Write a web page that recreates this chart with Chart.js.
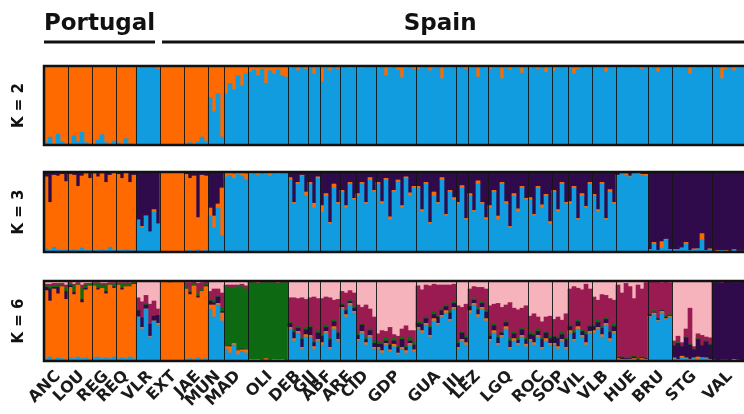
<!DOCTYPE html>
<html>
<head>
<meta charset="utf-8">
<script src="https://cdn.jsdelivr.net/npm/chart.js@4.4.1/dist/chart.umd.min.js"></script>
<style>
  html, body { margin: 0; padding: 0; background: #fff; overflow: hidden; }
  #wrap { position: relative; width: 744px; height: 414px; }
  canvas { position: absolute; left: 0; }
</style>
</head>
<body>
<div id="wrap">
  <canvas id="k2" width="744" height="150" style="top:0px"></canvas>
  <canvas id="k3" width="744" height="110" style="top:150px"></canvas>
  <canvas id="k6" width="744" height="154" style="top:260px"></canvas>
</div>
<script>
// populations, in plot order, and how many individuals each shows
const populations = ['ANC', 'LOU', 'REG', 'REQ', 'VLR', 'EXT', 'JAE', 'MUN', 'MAD', 'OLI',
  'DEB', 'GIJ', 'ABF', 'ARE', 'CID', 'GDP', 'GUA', 'JIL', 'LEZ', 'LGQ',
  'ROC', 'SOP', 'VIL', 'VLB', 'HUE', 'BRU', 'STG', 'VAL'];
const sampleCounts = [6, 6, 6, 5, 6, 6, 6, 4, 6, 10,
  5, 3, 5, 4, 5, 10, 10, 3, 5, 10,
  6, 4, 6, 6, 8, 6, 10, 8];
const countries = ['Portugal', 'Spain'];
const countryPopCounts = [5, 23];
const rowTitles = ['K = 2', 'K = 3', 'K = 6'];

// ancestry (%) per individual; the last cluster of each K is the remainder
const k2Orange = [
  97, 90, 99, 86, 96, 98,        // ANC
  98, 88, 96, 84, 97, 99,        // LOU
  99, 94, 87, 97, 99, 95,        // REG
  97, 99, 92, 98, 100,           // REQ
  3, 1, 0, 2, 1, 4,              // VLR
  100, 100, 99, 100, 100, 100,   // EXT
  99, 97, 100, 96, 90, 95,       // JAE
  40, 58, 35, 90,                // MUN
  35, 22, 30, 12, 25, 10,        // MAD
  8, 5, 12, 4, 22, 6, 10, 5, 12, 14, // OLI
  3, 2, 6, 2, 4,                 // DEB
  2, 10, 3,                      // GIJ
  20, 3, 6, 2, 4,                // ABF
  2, 1, 3, 2,                    // ARE
  2, 3, 1, 2, 2,                 // CID
  3, 2, 12, 3, 2, 5, 15, 3, 2, 4, // GDP
  4, 3, 2, 6, 3, 2, 16, 2, 3, 2, // GUA
  3, 2, 4,                       // JIL
  3, 2, 14, 2, 3,                // LEZ
  4, 3, 2, 16, 3, 5, 2, 3, 9, 2, // LGQ
  3, 2, 4, 2, 8, 3,              // ROC
  6, 3, 2, 3,                    // SOP
  3, 10, 4, 2, 3, 2,             // VIL
  2, 3, 2, 7, 2, 3,              // VLB
  2, 3, 2, 2, 3, 2, 4, 2,        // HUE
  3, 2, 7, 2, 3, 2,              // BRU
  2, 3, 2, 2, 10, 3, 2, 2, 3, 2, // STG
  3, 2, 16, 4, 2, 6, 3, 2        // VAL
];

const k3Blue = [
  4, 2, 6, 3, 2, 3,
  2, 3, 2, 5, 2, 2,
  2, 2, 3, 2, 6, 2,
  2, 2, 3, 2, 2,
  40, 30, 45, 25, 50, 35,
  0, 0, 0, 0, 0, 0,
  0, 2, 0, 3, 0, 2,
  45, 30, 55, 20,
  94, 96, 92, 97, 95, 90,
  97, 98, 96, 99, 97, 95, 98, 97, 99, 98,
  90, 60, 85, 95, 70,
  85, 55, 92,
  50, 70, 35, 80, 60,
  75, 55, 85, 65,
  70, 85, 60, 90, 75,
  85, 60, 90, 40, 75, 88, 55, 92, 70, 80,
  80, 50, 85, 35, 70, 60, 90, 45, 75, 65,
  60, 80, 40,
  70, 50, 85, 60, 40,
  55, 75, 40, 85, 60, 30, 70, 50, 80, 65,
  65, 45, 80, 55, 70, 35,
  75, 50, 85, 60,
  60, 80, 40, 70, 55, 85,
  70, 50, 85, 40, 75, 60,
  95, 97, 96, 94, 97, 98, 96, 95,
  3, 10, 2, 5, 15, 3,
  3, 2, 5, 10, 2, 3, 4, 15, 2, 3,
  1, 1, 2, 1, 1, 2, 1, 1
];
const k3Orange = [
  90, 60, 90, 92, 95, 85,
  95, 93, 80, 90, 96, 90,
  96, 92, 95, 85, 90, 97,
  95, 90, 96, 85, 94,
  0, 2, 0, 0, 3, 0,
  100, 100, 99, 100, 100, 100,
  97, 90, 95, 40, 96, 93,
  10, 15, 5, 60,
  5, 3, 6, 2, 4, 8,
  3, 2, 3, 1, 3, 4, 2, 3, 1, 2,
  3, 2, 2, 1, 5,
  2, 6, 2,
  8, 3, 2, 5, 2,
  2, 3, 2, 2,
  3, 2, 2, 3, 2,
  2, 3, 2, 4, 2, 2, 3, 2, 4, 2,
  2, 3, 2, 2, 5, 2, 3, 2, 2, 3,
  2, 3, 2,
  3, 2, 4, 2, 3,
  3, 2, 5, 2, 3, 2, 3, 4, 2, 2,
  3, 2, 2, 4, 2, 3,
  2, 3, 2, 2,
  3, 2, 2, 3, 2, 2,
  2, 3, 2, 2, 3, 2,
  1, 1, 2, 1, 1, 1, 1, 2,
  0, 2, 0, 8, 1, 0,
  0, 1, 0, 2, 0, 1, 0, 8, 0, 1,
  0, 1, 0, 1, 0, 1, 0, 0
];

const k6Blue = [
  3, 5, 2, 4, 3, 2,
  4, 3, 5, 3, 4, 2,
  4, 5, 3, 4, 3, 5,
  3, 4, 3, 5, 3,
  55, 40, 65, 30, 50, 45,
  0, 0, 0, 0, 0, 0,
  2, 3, 2, 4, 2, 3,
  65, 55, 70, 50,
  15, 10, 20, 8, 12, 10,
  1, 2, 1, 1, 2, 1, 1, 2, 1, 1,
  40, 25, 35, 15, 30,
  30, 15, 25,
  20, 35, 15, 40, 25,
  65, 55, 70, 60,
  25, 35, 20, 30, 15,
  15, 10, 20, 12, 18, 8, 15, 10, 20, 12,
  40, 35, 45, 30, 50, 45, 55, 60, 50, 65,
  15, 25, 20,
  60, 70, 55, 65, 50,
  25, 35, 20, 30, 40, 15, 25, 20, 30, 18,
  25, 20, 30, 15, 25, 20,
  20, 15, 25, 15,
  35, 25, 40, 30, 20, 35,
  35, 40, 30, 45, 25, 35,
  2, 1, 2, 1, 2, 1, 2, 1,
  55, 58, 50, 60, 52, 55,
  3, 2, 4, 3, 2, 3, 2, 4, 3, 2,
  1, 0, 1, 1, 0, 1, 1, 0
];
const k6Orange = [
  85, 70, 88, 80, 90, 75,
  88, 80, 90, 70, 85, 92,
  90, 84, 88, 80, 92, 86,
  92, 85, 90, 88, 93,
  0, 2, 0, 1, 0, 2,
  99, 100, 98, 100, 99, 100,
  88, 80, 92, 75, 85, 90,
  5, 15, 2, 10,
  3, 8, 2, 5, 2, 4,
  1, 0, 1, 0, 1, 0, 1, 0, 1, 0,
  2, 3, 2, 2, 3,
  2, 3, 2,
  3, 2, 2, 3, 2,
  2, 3, 2, 2,
  2, 2, 3, 2, 2,
  2, 3, 2, 2, 3, 2, 2, 3, 2, 2,
  2, 3, 2, 2, 3, 2, 2, 3, 2, 2,
  2, 2, 3,
  3, 2, 3, 2, 3,
  2, 3, 2, 2, 3, 2, 3, 2, 2, 3,
  2, 3, 2, 2, 3, 2,
  2, 3, 2, 2,
  3, 2, 3, 2, 3, 2,
  3, 2, 3, 2, 3, 2,
  1, 1, 0, 1, 1, 0, 1, 1,
  1, 2, 1, 2, 1, 1,
  1, 0, 2, 1, 0, 1, 3, 0, 1, 0,
  0, 0, 0, 0, 0, 1, 0, 0
];
const k6Purple = [
  4, 15, 2, 8, 0, 10,
  2, 3, 0, 4, 2, 0,
  0, 2, 0, 3, 0, 2,
  0, 2, 0, 0, 1,
  8, 12, 5, 15, 6, 10,
  0, 0, 1, 0, 0, 0,
  0, 3, 0, 2, 0, 1,
  5, 3, 8, 2,
  0, 1, 0, 0, 1, 0,
  0, 0, 0, 0, 0, 0, 0, 0, 0, 0,
  5, 8, 4, 10, 6,
  10, 5, 8,
  8, 5, 10, 6, 8,
  3, 5, 2, 4,
  5, 8, 4, 6, 5,
  4, 8, 3, 6, 4, 7, 10, 4, 3, 6,
  5, 8, 6, 10, 5, 8, 6, 5, 8, 5,
  5, 8, 6,
  5, 4, 6, 5, 8,
  4, 6, 7, 3, 5, 8, 6, 4, 7, 6,
  6, 9, 5, 10, 7, 6,
  8, 10, 6, 10,
  5, 8, 6, 5, 10, 6,
  5, 6, 8, 5, 8, 6,
  1, 2, 1, 1, 2, 1, 1, 1,
  2, 1, 2, 1, 2, 1,
  15, 20, 12, 25, 18, 10, 22, 15, 20, 18,
  97, 98, 96, 98, 99, 96, 97, 99
];
const k6Green = [
  2, 3, 2, 3, 2, 5,
  3, 8, 2, 15, 4, 2,
  3, 5, 4, 8, 2, 4,
  2, 5, 3, 4, 1,
  1, 0, 2, 0, 1, 0,
  0, 0, 0, 0, 0, 0,
  3, 2, 2, 4, 3, 2,
  2, 3, 2, 5,
  75, 72, 70, 80, 78, 76,
  96, 96, 95, 97, 95, 97, 96, 95, 96, 97,
  2, 3, 2, 2, 3,
  2, 2, 3,
  2, 3, 2, 2, 2,
  2, 2, 2, 2,
  3, 2, 3, 2, 3,
  3, 2, 4, 2, 3, 2, 3, 2, 5, 3,
  2, 3, 2, 2, 3, 2, 2, 2, 3, 2,
  2, 2, 2,
  2, 2, 3, 2, 2,
  3, 2, 3, 2, 2, 3, 2, 3, 2, 2,
  3, 2, 3, 2, 2, 3,
  2, 2, 3, 2,
  2, 3, 2, 2, 3, 2,
  2, 3, 2, 2, 2, 3,
  1, 1, 1, 2, 1, 1, 1, 1,
  1, 2, 1, 1, 2, 1,
  1, 1, 1, 1, 1, 1, 1, 1, 1, 1,
  0, 0, 0, 0, 0, 0, 0, 0
];
const k6Crimson = [
  2, 3, 3, 2, 2, 3,
  1, 2, 1, 3, 2, 1,
  1, 2, 2, 2, 1, 1,
  1, 2, 2, 1, 1,
  15, 20, 10, 25, 18, 8,
  1, 0, 1, 0, 1, 0,
  5, 10, 3, 12, 8, 3,
  10, 14, 8, 18,
  2, 4, 3, 2, 3, 4,
  1, 1, 1, 1, 1, 1, 1, 1, 1, 1,
  30, 40, 35, 50, 35,
  35, 55, 40,
  45, 35, 50, 25, 40,
  15, 20, 12, 17,
  35, 20, 40, 25, 30,
  10, 15, 8, 20, 5, 12, 10, 25, 8, 15,
  45, 40, 40, 50, 35, 38, 30, 25, 32, 22,
  45, 30, 40,
  20, 15, 25, 18, 27,
  35, 25, 40, 30, 20, 45, 30, 35, 25, 40,
  20, 25, 15, 20, 18, 25,
  20, 25, 15, 30,
  45, 55, 40, 50, 60, 45,
  35, 25, 40, 28, 40, 30,
  90, 80, 93, 88, 72, 92, 85, 94,
  40, 36, 45, 34, 42, 40,
  5, 8, 4, 10, 45, 3, 6, 12, 5, 8,
  1, 1, 2, 1, 0, 1, 1, 0
];

const colors = {
  blue: '#129ce0', orange: '#fe6a00', purple: '#2f0b4b',
  green: '#0e6a12', crimson: '#9a1b52', pink: '#f7b3bc'
};

// one category per individual, labelled by population
const individuals = [];
const tickNames = {};
let start = 0;
populations.forEach((p, i) => {
  for (let j = 0; j < sampleCounts[i]; j++) individuals.push(p + ' ' + (j + 1));
  tickNames[start + Math.floor(sampleCounts[i] / 2)] = p;
  start += sampleCounts[i];
});

function remainder(...parts) {
  return individuals.map((_, i) => Math.max(0, 100 - parts.reduce((s, a) => s + a[i], 0)));
}

function series(data, color) {
  return { data, backgroundColor: color, borderWidth: 0, barPercentage: 1, categoryPercentage: 1 };
}

const framePlugin = {
  id: 'popFrame',
  afterDatasetsDraw(chart) {
    const { ctx, chartArea: a, scales: { x } } = chart;
    const step = x.getPixelForValue(1) - x.getPixelForValue(0);
    ctx.save();
    ctx.strokeStyle = 'rgba(20,20,20,0.9)';
    ctx.lineWidth = 1;
    let idx = 0;
    sampleCounts.forEach(n => {
      idx += n;
      if (idx >= individuals.length) return;
      const px = Math.round(x.getPixelForValue(idx) - step / 2) + 0.5;
      ctx.beginPath();
      ctx.moveTo(px, a.top);
      ctx.lineTo(px, a.bottom);
      ctx.stroke();
    });
    ctx.strokeStyle = '#111';
    ctx.lineWidth = 2.5;
    ctx.beginPath();
    ctx.moveTo(a.right + 4, a.top);
    ctx.lineTo(a.left, a.top);
    ctx.lineTo(a.left, a.bottom);
    ctx.lineTo(a.right + 4, a.bottom);
    ctx.stroke();
    ctx.restore();
  }
};

const headerPlugin = {
  id: 'countryHeader',
  afterDraw(chart) {
    const { ctx, scales: { x }, width } = chart;
    const step = x.getPixelForValue(1) - x.getPixelForValue(0);
    let popIdx = 0, indIdx = 0;
    ctx.save();
    ctx.fillStyle = '#111';
    ctx.strokeStyle = '#111';
    ctx.lineWidth = 3;
    ctx.font = 'bold 23px "DejaVu Sans"';
    ctx.textAlign = 'center';
    ctx.textBaseline = 'alphabetic';
    countries.forEach((c, ci) => {
      let n = 0;
      for (let k = popIdx; k < popIdx + countryPopCounts[ci]; k++) n += sampleCounts[k];
      const x0 = x.getPixelForValue(indIdx) - step / 2 + (ci === 0 ? 0 : 2);
      const x1 = Math.min(x.getPixelForValue(indIdx + n - 1) + step / 2 - (ci === 0 ? 5 : 0), width + 4);
      ctx.beginPath();
      ctx.moveTo(x0, 42);
      ctx.lineTo(x1, 42);
      ctx.stroke();
      const tx = ci === 0 ? (x0 + x1) / 2 : x0 + (x1 - x0) * 0.478;
      ctx.fillText(c, tx, 30);
      popIdx += countryPopCounts[ci];
      indIdx += n;
    });
    ctx.restore();
  }
};

Chart.defaults.font.family = '"DejaVu Sans", sans-serif';

function buildChart(id, title, datasets, opts) {
  const xScale = {
    stacked: true,
    display: opts.labels,
    grid: { display: false, drawTicks: false },
    border: { display: false },
    ticks: {
      autoSkip: false, maxRotation: 45, minRotation: 45, padding: 6,
      color: '#1a1a1a', font: { size: 16, weight: 'bold' },
      callback: (v, i) => tickNames[i] || ''
    }
  };
  if (opts.labels) {
    xScale.afterFit = s => {
      s.height = 53;
      s.paddingLeft = 0;
      s.paddingRight = 0;
    };
  }
  return new Chart(document.getElementById(id), {
    type: 'bar',
    data: { labels: individuals, datasets },
    options: {
      responsive: false,
      animation: false,
      devicePixelRatio: 1,
      layout: { padding: { top: opts.top, bottom: opts.bottom, left: 0, right: 0 } },
      plugins: { legend: { display: false }, tooltip: { enabled: false } },
      scales: {
        x: xScale,
        y: {
          stacked: true, min: 0, max: 100,
          grid: { display: false },
          border: { display: false },
          ticks: { display: false },
          title: {
            display: true, text: title, color: '#111',
            font: { size: 15, weight: 'bold' }, padding: { top: 10, bottom: 0 }
          },
          afterFit: s => { s.width = 44; }
        }
      }
    },
    plugins: opts.header ? [framePlugin, headerPlugin] : [framePlugin]
  });
}

buildChart('k2', rowTitles[0], [
  series(remainder(k2Orange), colors.blue),
  series(k2Orange, colors.orange)
], { top: 66, bottom: 5, labels: false, header: true });

buildChart('k3', rowTitles[1], [
  series(k3Blue, colors.blue),
  series(k3Orange, colors.orange),
  series(remainder(k3Blue, k3Orange), colors.purple)
], { top: 22, bottom: 8, labels: false });

buildChart('k6', rowTitles[2], [
  series(k6Blue, colors.blue),
  series(k6Orange, colors.orange),
  series(k6Purple, colors.purple),
  series(k6Green, colors.green),
  series(k6Crimson, colors.crimson),
  series(remainder(k6Blue, k6Orange, k6Purple, k6Green, k6Crimson), colors.pink)
], { top: 21, bottom: 0, labels: true });
</script>
</body>
</html>
